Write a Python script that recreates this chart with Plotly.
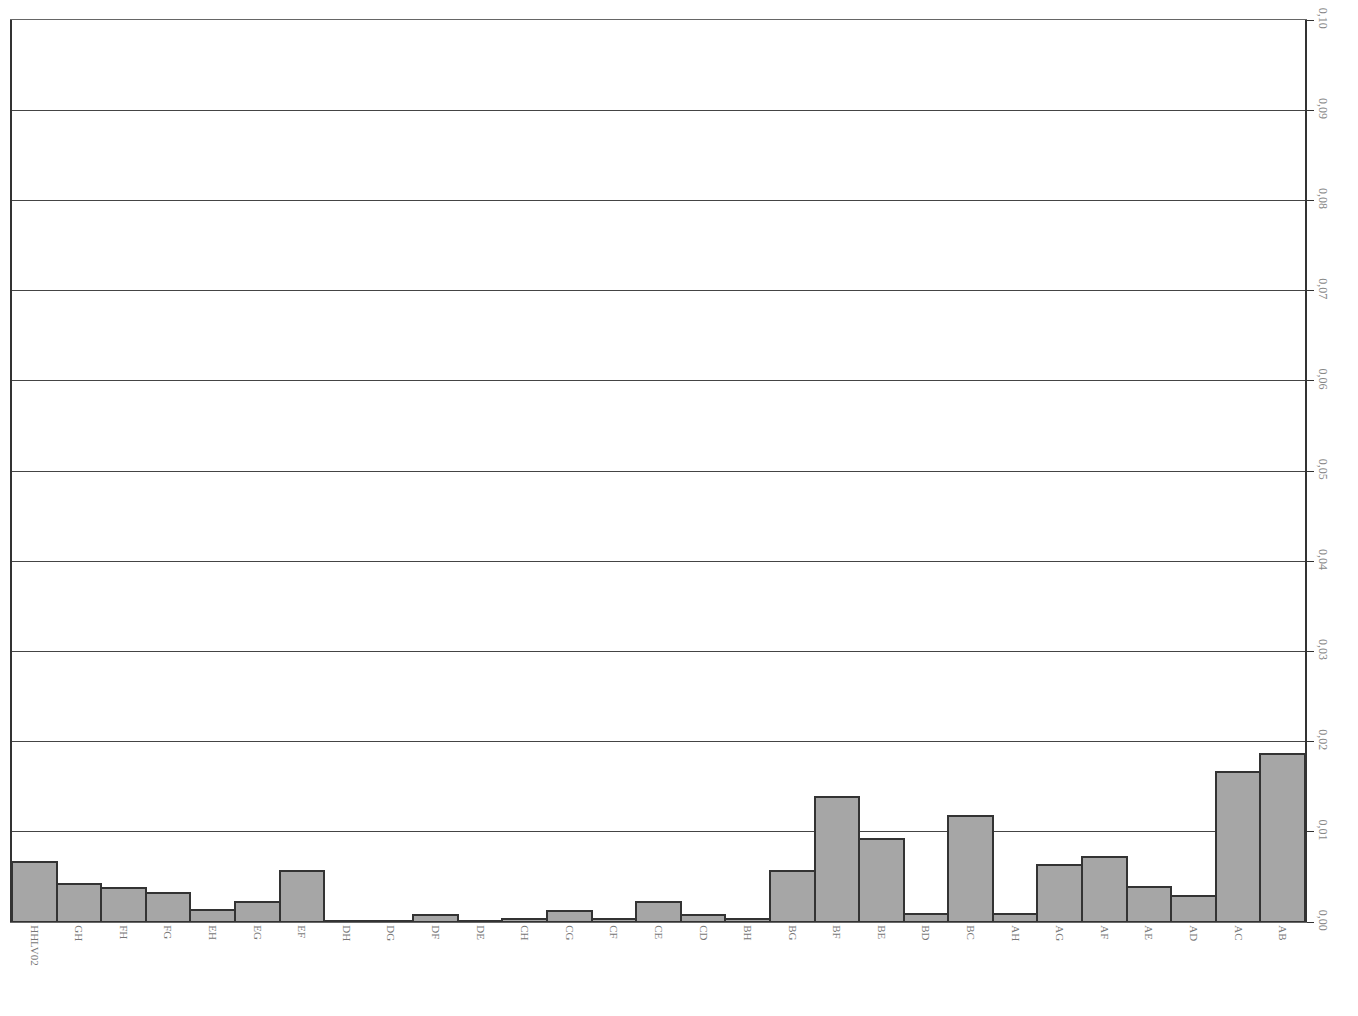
import plotly.graph_objects as go

categories = ["HHLV02", "GH", "FH", "FG", "EH", "EG", "EF", "DH", "DG", "DF", "DE",
              "CH", "CG", "CF", "CE", "CD", "BH", "BG", "BF", "BE", "BD", "BC",
              "AH", "AG", "AF", "AE", "AD", "AC", "AB"]
values = [0.0067, 0.0042, 0.0038, 0.0032, 0.0013, 0.0022, 0.0057, 0.0001, 0.0001, 0.0008, 0.0001,
          0.0003, 0.0012, 0.0003, 0.0022, 0.0008, 0.0003, 0.0057, 0.0139, 0.0092, 0.0009, 0.0117,
          0.0009, 0.0063, 0.0072, 0.0039, 0.0029, 0.0166, 0.0186]
tick_vals = [0.00, 0.01, 0.02, 0.03, 0.04, 0.05, 0.06, 0.07, 0.08, 0.09, 0.10]

fig = go.Figure(go.Bar(
    x=categories, y=values,
    marker=dict(color="#a6a6a6", line=dict(color="#333333", width=2)),
))

fig.update_layout(
    width=1358, height=1016,
    margin=dict(l=4, r=61, t=12, b=102),
    paper_bgcolor="white", plot_bgcolor="white",
    bargap=0, showlegend=False,
    separators=",.",
    font=dict(family="Liberation Serif", color="#777777", size=11),
)
fig.update_xaxes(
    type="category", tickangle=90, showgrid=False, automargin=False,
    showline=True, linecolor="#666666", linewidth=1, mirror=True,
    ticks="", ticklen=8, tickcolor="white", tickfont=dict(size=11, color="#777777"),
)
fig.update_yaxes(
    side="right", range=[0, 0.10], tickvals=tick_vals, tickformat=".2f",
    tickangle=90, showgrid=True, gridcolor="#444444", gridwidth=1, automargin=False,
    showline=True, linecolor="#333333", linewidth=2, mirror=True,
    ticks="outside", ticklen=7, tickcolor="#333333", ticklabeloverflow="allow",
    tickfont=dict(size=12, color="#888888"), zeroline=False,
)

fig.write_html("out.html")
